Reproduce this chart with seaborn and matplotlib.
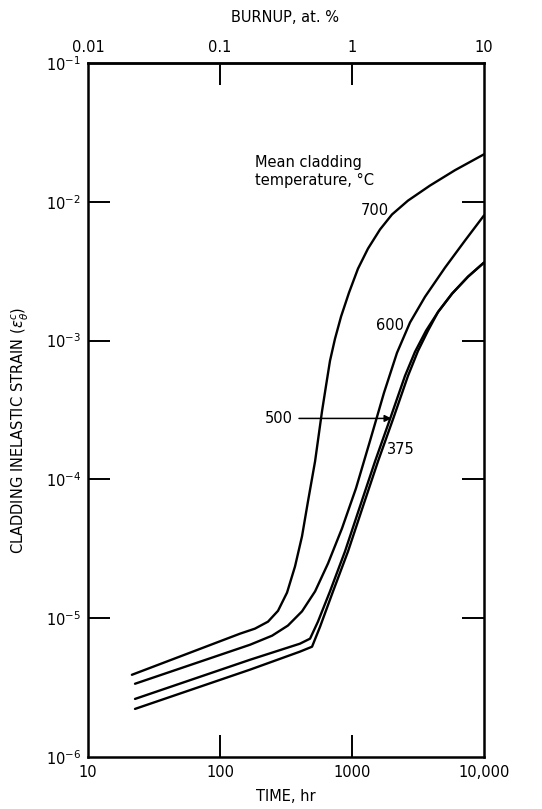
import numpy as np
import pandas as pd
import matplotlib
matplotlib.use("Agg")
import matplotlib.pyplot as plt
import seaborn as sns

# ---- data ----
t_700 = [21.5, 142, 184, 231, 275, 322, 370, 418, 464, 525, 593, 635, 681, 743, 826, 948,
         1110, 1321, 1630, 2010, 2655, 3900, 6030, 10000]
s_700 = [3.91e-6, 7.74e-6, 8.41e-6, 9.44e-6, 1.13e-5, 1.53e-5, 2.36e-5, 3.89e-5, 6.95e-5,
         1.35e-4, 3.11e-4, 4.71e-4, 7.15e-4, 1.03e-3, 1.49e-3, 2.21e-3, 3.30e-3, 4.60e-3,
         6.32e-3, 8.11e-3, 1.02e-2, 1.31e-2, 1.69e-2, 2.20e-2]

t_600 = [22.7, 169, 248, 327, 418, 525, 658, 840, 1072, 1368, 1746, 2192, 2750, 3575, 5070,
         7180, 10000]
s_600 = [3.37e-6, 6.44e-6, 7.48e-6, 8.85e-6, 1.12e-5, 1.56e-5, 2.48e-5, 4.44e-5, 8.63e-5,
         1.89e-4, 4.20e-4, 8.17e-4, 1.35e-3, 2.07e-3, 3.36e-3, 5.26e-3, 7.98e-3]

t_500 = [22.7, 169, 403, 481, 552, 681, 885, 1150, 1495, 1940, 2520, 3000, 3640, 4490, 5730,
         7570, 10000]
s_500 = [2.62e-6, 5.02e-6, 6.55e-6, 7.12e-6, 9.44e-6, 1.56e-5, 3.03e-5, 6.40e-5, 1.35e-4,
         2.72e-4, 5.57e-4, 8.30e-4, 1.18e-3, 1.61e-3, 2.18e-3, 2.89e-3, 3.65e-3]

t_375 = [22.7, 169, 403, 498, 573, 718, 933, 1211, 1574, 2046, 2655, 3162, 3765, 4490, 5730,
         7570, 10000]
s_375 = [2.22e-6, 4.26e-6, 5.74e-6, 6.23e-6, 8.69e-6, 1.56e-5, 3.03e-5, 6.40e-5, 1.35e-4,
         2.72e-4, 5.57e-4, 8.43e-4, 1.18e-3, 1.61e-3, 2.18e-3, 2.89e-3, 3.65e-3]

temps = ["700", "600", "500", "375"]
x_ticks = [10, 100, 1000, 10000]
x_ticklabels = ["10", "100", "1000", "10,000"]
y_ticks = [1e-6, 1e-5, 1e-4, 1e-3, 1e-2, 1e-1]
y_ticklabels = [r"$10^{-6}$", r"$10^{-5}$", r"$10^{-4}$", r"$10^{-3}$", r"$10^{-2}$", r"$10^{-1}$"]
top_ticks = [0.01, 0.1, 1, 10]
top_ticklabels = ["0.01", "0.1", "1", "10"]

frames = []
for name, t, s in zip(temps, [t_700, t_600, t_500, t_375], [s_700, s_600, s_500, s_375]):
    frames.append(pd.DataFrame({"time": t, "strain": s, "temp": name}))
df = pd.concat(frames, ignore_index=True)

sns.set_style("white")
plt.rcParams["font.family"] = ["DejaVu Sans"]
plt.rcParams["mathtext.fontset"] = "dejavusans"
plt.rcParams["text.color"] = "black"
plt.rcParams["axes.labelcolor"] = "black"
plt.rcParams["xtick.color"] = "black"
plt.rcParams["ytick.color"] = "black"

fig = plt.figure(figsize=(5.42, 8.09), dpi=100)
ax = fig.add_axes([0.1624, 0.0643, 0.7306, 0.8578])

sns.lineplot(data=df, x="time", y="strain", units="temp", estimator=None, sort=False,
             color="black", lw=1.7, ax=ax, legend=False)

ax.set_xscale("log")
ax.set_yscale("log")
ax.set_xlim(10, 10000)
ax.set_ylim(1e-6, 1e-1)

ax.set_xticks(x_ticks)
ax.set_xticklabels(x_ticklabels)
ax.set_yticks(y_ticks)
ax.set_yticklabels(y_ticklabels)
ax.minorticks_off()
ax.tick_params(axis="both", which="major", direction="in", length=16, width=1.4,
               labelsize=10.5, colors="black", pad=6, left=True, bottom=True)
ax.tick_params(axis="y", right=True, labelright=False, pad=5)
ax.tick_params(axis="x", top=False)

# tick marks at the corners would only overlap the frame
for tk in (ax.xaxis.get_major_ticks()[0], ax.xaxis.get_major_ticks()[-1],
           ax.yaxis.get_major_ticks()[0], ax.yaxis.get_major_ticks()[-1]):
    tk.tick1line.set_visible(False)
    tk.tick2line.set_visible(False)

for sp in ax.spines.values():
    sp.set_visible(True)
    sp.set_linewidth(1.8)
    sp.set_color("black")

ax.set_xlabel("")
ax.set_ylabel("")

sec = ax.secondary_xaxis("top", functions=(lambda t: t / 1000.0, lambda b: b * 1000.0))
sec.set_xticks(top_ticks)
sec.set_xticklabels(top_ticklabels)
sec.minorticks_off()
sec.tick_params(direction="in", length=16, width=1.4, labelsize=10.5, pad=6, colors="black")
sec.spines["top"].set_linewidth(1.8)
stk = sec.xaxis.get_major_ticks()
for tk in (stk[0], stk[-1]):
    tk.tick1line.set_visible(False)
    tk.tick2line.set_visible(False)

fig.text(0.527, 0.015, "TIME, hr", ha="center", va="center", fontsize=10.5)
fig.text(0.525, 0.978, "BURNUP, at. %", ha="center", va="center", fontsize=10.5)
fig.text(0.037, 0.468, r"CLADDING INELASTIC STRAIN ($\epsilon_\theta^c$)", ha="center",
         va="center", rotation=90, fontsize=10.5)

ax.text(184, 1.66e-2, "Mean cladding\ntemperature, °C", ha="left", va="center",
        fontsize=10.5, linespacing=1.25)
ax.text(1900, 8.7e-3, "700", ha="right", va="center", fontsize=10.5)
ax.text(2480, 1.28e-3, "600", ha="right", va="center", fontsize=10.5)
ax.text(1841, 1.65e-4, "375", ha="left", va="center", fontsize=10.5)
ax.annotate("500", xy=(1990, 2.75e-4), xytext=(357, 2.75e-4), ha="right", va="center",
            fontsize=10.5,
            arrowprops=dict(arrowstyle="-|>", lw=1.1, color="black", shrinkA=2, shrinkB=0,
                            mutation_scale=10))

fig.savefig("out.png", dpi=100, facecolor="white")
